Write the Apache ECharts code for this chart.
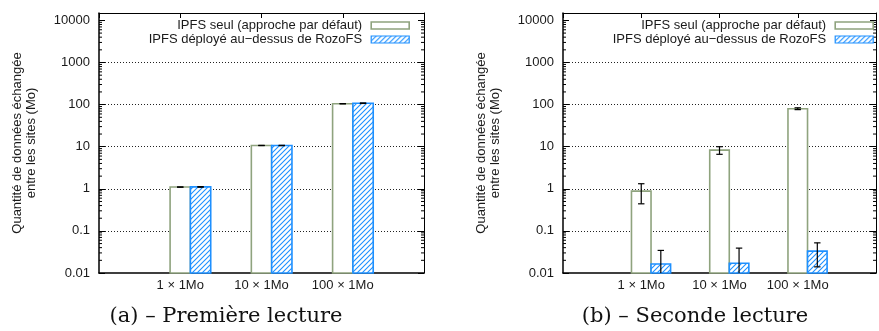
<!DOCTYPE html>
<html>
<head>
<meta charset="utf-8">
<script src="https://cdn.jsdelivr.net/npm/echarts@6.0.0/dist/echarts.min.js"></script>
<style>
  html, body { margin: 0; padding: 0; background: #fff; }
  #chart { width: 879px; height: 331px; }
</style>
</head>
<body>
<div id="chart"></div>
<script>
// ---------------- data ----------------
const categories = ['1 × 1Mo', '10 × 1Mo', '100 × 1Mo'];
const seriesNames = ['IPFS seul (approche par défaut)', 'IPFS déployé au\u2212dessus de RozoFS'];
const captions = ['(a) \u2013 Première lecture', '(b) \u2013 Seconde lecture'];
const yAxisName = 'Quantité de données échangée\nentre les sites (Mo)';

// (a) first read
const firstSeul = [1.1, 10.7, 105];
const firstSeulErr = [0.01, 0.08, 0.6];
const firstRozo = [1.11, 10.7, 108];
const firstRozoErr = [0.02, 0.1, 1.5];
// (b) second read
const secondSeul = [0.88, 8.3, 80];
const secondSeulErr = [0.44, 1.7, 4];
const secondRozo = [0.0164, 0.017, 0.033];
const secondRozoErr = [0.018, 0.022, 0.019];

const yTickValues = [0.01, 0.1, 1, 10, 100, 1000, 10000];
const minorSteps = [2, 3, 4, 5, 6, 7, 8, 9];
const Y_MIN = 0.01;
const Y_MAX = 15000;

// ---------------- styles ----------------
const GREEN = '#8fa37e';
const BLUE = '#1e90ff';
const BAR_FRAC = 0.25;
const SANS = 'Liberation Sans, Arial, sans-serif';

function makeHatch() {
  const s = 5;
  const c = document.createElement('canvas');
  c.width = s; c.height = s;
  const g = c.getContext('2d');
  g.fillStyle = '#fff';
  g.fillRect(0, 0, s, s);
  g.strokeStyle = BLUE;
  g.lineWidth = 1.1;
  g.beginPath();
  g.moveTo(-1, s + 1); g.lineTo(s + 1, -1);
  g.moveTo(-1, 1); g.lineTo(1, -1);
  g.moveTo(s - 1, s + 1); g.lineTo(s + 1, s - 1);
  g.stroke();
  return c;
}
const hatch = { image: makeHatch(), repeat: 'repeat' };

function toData(vals, errs) {
  return vals.map((v, i) => [i, v, errs[i]]);
}

function makeBarRender(slot, kind) {
  return function (params, api) {
    const x = api.value(0), v = api.value(1), e = api.value(2);
    const p0 = api.coord([x, v]);
    const p1 = api.coord([x + 1, v]);
    const bw = (p1[0] - p0[0]) * BAR_FRAC;
    const cx = p0[0] + slot * bw;
    const base = api.coord([x, Y_MIN])[1];
    const top = p0[1];
    const hi = api.coord([x, v + e])[1];
    const lowOk = (v - e) > Y_MIN;
    const lo = lowOk ? api.coord([x, v - e])[1] : base;
    const shape = { x: cx - bw / 2, y: top, width: bw, height: base - top };
    const children = [];
    if (kind === 'seul') {
      children.push({ type: 'rect', shape: shape, style: { fill: '#fff', stroke: GREEN, lineWidth: 1.6 } });
    } else {
      children.push({ type: 'rect', shape: shape, style: { fill: hatch, stroke: BLUE, lineWidth: 1.6 } });
    }
    const cap = 3.2;
    children.push({ type: 'line', shape: { x1: cx, y1: hi, x2: cx, y2: lo }, style: { stroke: '#000', lineWidth: 1.2 } });
    children.push({ type: 'line', shape: { x1: cx - cap, y1: hi, x2: cx + cap, y2: hi }, style: { stroke: '#000', lineWidth: 1.2 } });
    if (lowOk) {
      children.push({ type: 'line', shape: { x1: cx - cap, y1: lo, x2: cx + cap, y2: lo }, style: { stroke: '#000', lineWidth: 1.2 } });
    }
    return { type: 'group', children: children };
  };
}

function minorTickRender(params, api) {
  const d = api.value(1);
  const cs = params.coordSys;
  const children = [];
  minorSteps.forEach(function (s) {
    const val = d * s;
    if (val >= Y_MAX) return;
    const y = api.coord([-1, val])[1];
    children.push({ type: 'line', shape: { x1: cs.x, y1: y, x2: cs.x + 3, y2: y }, style: { stroke: '#000', lineWidth: 1 } });
    children.push({ type: 'line', shape: { x1: cs.x + cs.width, y1: y, x2: cs.x + cs.width - 3, y2: y }, style: { stroke: '#000', lineWidth: 1 } });
  });
  return { type: 'group', children: children };
}

function isTick(v) {
  return yTickValues.some(t => Math.abs(v - t) / t < 1e-6);
}

const gridLeft = [99, 563];
const grids = gridLeft.map(l => ({ left: l, top: 13, width: 325, height: 260 }));

const xAxes = [];
const yAxes = [];
[0, 1].forEach(function (g) {
  xAxes.push({
    type: 'value', gridIndex: g, min: -1, max: 3, interval: 1,
    axisLine: { show: true, onZero: false, lineStyle: { color: '#000', width: 1.5 } },
    axisTick: { show: false },
    splitLine: { show: false },
    axisLabel: {
      margin: 6, color: '#1a1a1a', fontFamily: SANS, fontSize: 13,
      formatter: v => (categories[v] !== undefined ? categories[v] : '')
    }
  });
  xAxes.push({
    type: 'value', gridIndex: g, position: 'top', min: -1, max: 3, interval: 1,
    axisLine: { show: true, onZero: false, lineStyle: { color: '#000', width: 1 } },
    axisTick: { show: true, inside: true, length: 5, lineStyle: { color: '#000' } },
    splitLine: { show: false },
    axisLabel: { show: false }
  });
  yAxes.push({
    type: 'log', gridIndex: g, min: Y_MIN, max: Y_MAX, logBase: 10,
    name: yAxisName, nameLocation: 'middle', nameRotate: 90, nameGap: 60,
    nameTextStyle: { fontFamily: SANS, fontSize: 13, lineHeight: 14.5, color: '#1a1a1a' },
    axisLine: { show: true, onZero: false, lineStyle: { color: '#000', width: 1.5 } },
    axisTick: { show: true, inside: true, length: 6, lineStyle: { color: '#000' } },
    splitLine: {
      show: true,
      lineStyle: {
        type: [1, 2], width: 1,
        color: ['transparent', '#222', '#222', '#222', '#222', '#222', 'transparent', 'transparent']
      }
    },
    axisLabel: {
      margin: 9, color: '#1a1a1a', fontFamily: SANS, fontSize: 13,
      formatter: v => (isTick(v) ? String(v) : '')
    }
  });
  yAxes.push({
    type: 'log', gridIndex: g, position: 'right', min: Y_MIN, max: Y_MAX, logBase: 10,
    axisLine: { show: true, onZero: false, lineStyle: { color: '#000', width: 1 } },
    axisTick: { show: true, inside: true, length: 6, lineStyle: { color: '#000' } },
    splitLine: { show: false },
    axisLabel: { show: false }
  });
});

const panelData = [
  [toData(firstSeul, firstSeulErr), toData(firstRozo, firstRozoErr)],
  [toData(secondSeul, secondSeulErr), toData(secondRozo, secondRozoErr)]
];

const series = [];
[0, 1].forEach(function (g) {
  series.push({
    type: 'custom', name: 'minor' + g, xAxisIndex: g * 2, yAxisIndex: g * 2,
    silent: true, z: 3,
    data: yTickValues.map(d => [-1, d]),
    renderItem: minorTickRender
  });
  series.push({
    type: 'custom', name: seriesNames[0], xAxisIndex: g * 2, yAxisIndex: g * 2,
    z: 2, itemStyle: { color: '#fff', borderColor: GREEN },
    data: panelData[g][0], renderItem: makeBarRender(0, 'seul')
  });
  series.push({
    type: 'custom', name: seriesNames[1], xAxisIndex: g * 2, yAxisIndex: g * 2,
    z: 2, itemStyle: { color: BLUE, borderColor: BLUE },
    data: panelData[g][1], renderItem: makeBarRender(1, 'rozo')
  });
});

const legendData = [
  { name: seriesNames[0], icon: 'rect', itemStyle: { color: '#fff', borderColor: GREEN, borderWidth: 1.6 } },
  { name: seriesNames[1], icon: 'rect', itemStyle: { color: hatch, borderColor: BLUE, borderWidth: 1.2 } }
];
const legendRight = [469, 5];
const legends = legendRight.map(r => ({
  orient: 'vertical', align: 'right', right: r, top: 19,
  itemWidth: 38, itemHeight: 7, itemGap: 1, padding: 0,
  selectedMode: false,
  textStyle: { fontFamily: SANS, fontSize: 13, color: '#1a1a1a', padding: [0, 4, 0, 0] },
  data: legendData
}));

const captionCenters = [226, 695];
const titles = captions.map((t, i) => ({
  text: t, left: captionCenters[i], top: 306, textAlign: 'center', padding: 0,
  textStyle: { fontFamily: 'DejaVu Serif, serif', fontSize: 21, fontWeight: 'normal', color: '#111' }
}));

const chart = echarts.init(document.getElementById('chart'), null, { renderer: 'canvas' });
chart.setOption({
  animation: false,
  backgroundColor: '#fff',
  title: titles,
  legend: legends,
  grid: grids,
  xAxis: xAxes,
  yAxis: yAxes,
  series: series
});
</script>
</body>
</html>
